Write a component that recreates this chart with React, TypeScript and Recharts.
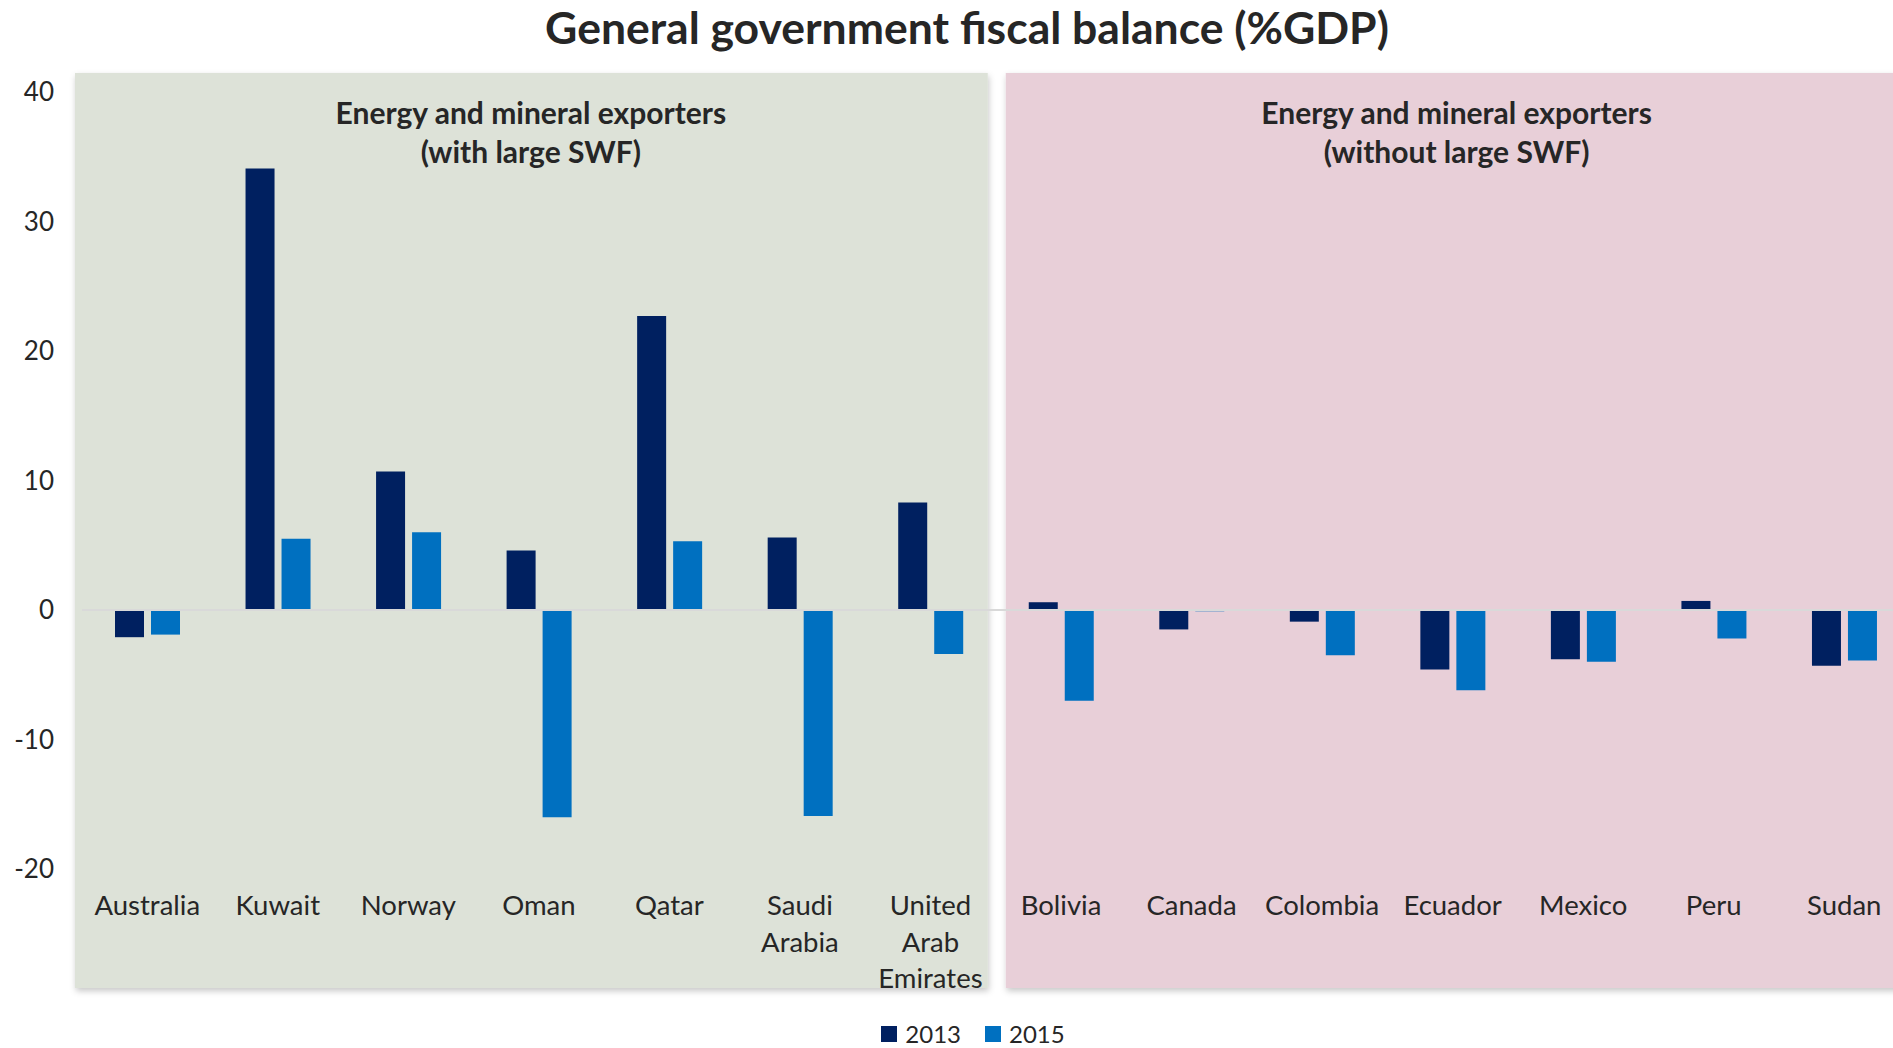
import React from "react";
import {
  BarChart,
  Bar,
  XAxis,
  YAxis,
  ReferenceArea,
  ReferenceLine,
  Legend,
} from "recharts";

// country labels, in the order they are drawn
const countries = [
  "Australia",
  "Kuwait",
  "Norway",
  "Oman",
  "Qatar",
  "Saudi Arabia",
  "United Arab Emirates",
  "Bolivia",
  "Canada",
  "Colombia",
  "Ecuador",
  "Mexico",
  "Peru",
  "Sudan",
];

// fiscal balance, % of GDP
const balance2013 = [-2.1, 34.1, 10.7, 4.6, 22.7, 5.6, 8.3, 0.6, -1.5, -0.9, -4.6, -3.8, 0.7, -4.3];
const balance2015 = [-1.9, 5.5, 6.0, -16.0, 5.3, -15.9, -3.4, -7.0, -0.1, -3.5, -6.2, -4.0, -2.2, -3.9];

const yTicks = [-20, -10, 0, 10, 20, 30, 40];

const withSwfTitle = ["Energy and mineral exporters", "(with large SWF)"];
const withoutSwfTitle = ["Energy and mineral exporters", "(without large SWF)"];

const data = countries.map((name, i) => ({
  name,
  y2013: balance2013[i],
  y2015: balance2015[i],
}));

const FONT = "Lato, 'Open Sans', sans-serif";
const TEXT = "#262626";

const CHART_W = 1940;
const CHART_H = 1060;

// background panel behind a group of countries, with its heading
const Panel = (props: any) => {
  const { x, y, width, height, fill, lines, padLeft, padRight, textShift, id } = props;
  const left = x + padLeft;
  const right = x + width + padRight;
  const top = y - 19;
  const bottom = y + height + 119;
  const cx = x + width / 2 + textShift;
  return (
    <g>
      <defs>
        <filter id={id} filterUnits="userSpaceOnUse" x={0} y={0} width={CHART_W + 200} height={CHART_H}>
          <feDropShadow dx="1" dy="3" stdDeviation="3" floodColor="#000" floodOpacity="0.22" />
        </filter>
      </defs>
      <rect x={left} y={top} width={right - left} height={bottom - top} fill={fill} filter={`url(#${id})`} />
      {lines.map((t: string, i: number) => (
        <text
          key={i}
          x={cx}
          y={top + 39 + i * 39}
          textAnchor="middle"
          dominantBaseline="central"
          fontFamily={FONT}
          fontWeight={700}
          fontSize={30}
          fill={TEXT}
        >
          {t}
        </text>
      ))}
    </g>
  );
};

// wraps multi word country names onto separate lines
const CountryTick = (props: any) => {
  const { x, y, payload } = props;
  const words = String(payload.value).split(" ");
  return (
    <text x={x} y={y} textAnchor="middle" fontFamily={FONT} fontSize={27.5} fill={TEXT}>
      {words.map((w, i) => (
        <tspan key={i} x={x} dy={i === 0 ? 46 : 36.5}>
          {w}
        </tspan>
      ))}
    </text>
  );
};

const renderLegend = (props: any) => {
  const items = props.payload || [];
  return (
    <div
      style={{
        display: "flex",
        justifyContent: "center",
        alignItems: "center",
        height: 26,
        lineHeight: "26px",
        fontFamily: FONT,
        fontSize: 24,
        color: TEXT,
      }}
    >
      {items.map((it: any, i: number) => (
        <span key={i} style={{ display: "flex", alignItems: "center", marginLeft: i === 0 ? 0 : 24 }}>
          <span style={{ width: 16, height: 16, background: it.color, marginRight: 8, display: "inline-block" }} />
          {it.value}
        </span>
      ))}
    </div>
  );
};

export default function App() {
  return (
    <div
      style={{
        position: "fixed",
        top: 0,
        left: 0,
        width: 1893,
        height: 1048,
        overflow: "hidden",
        background: "#fff",
      }}
    >
      <div
        style={{
          position: "absolute",
          top: 0,
          left: 0,
          width: 1934,
          textAlign: "center",
          fontFamily: FONT,
          fontWeight: 700,
          fontSize: 44.5,
          lineHeight: "54px",
          color: TEXT,
        }}
      >
        General government fiscal balance (%GDP)
      </div>
      <BarChart
        width={CHART_W}
        height={CHART_H}
        data={data}
        margin={{ top: 92, right: 30.5, left: 0, bottom: 13 }}
        barSize={29}
        barGap={7}
        style={{ position: "absolute", top: 0, left: 0 }}
      >
        <ReferenceArea
          x1="Australia"
          x2="United Arab Emirates"
          ifOverflow="visible"
          shape={(p: any) => (
            <Panel
              {...p}
              id="shadowA"
              fill="#DDE2D8"
              lines={withSwfTitle}
              padLeft={-7}
              padRight={-8}
              textShift={-8}
            />
          )}
        />
        <ReferenceArea
          x1="Bolivia"
          x2="Sudan"
          ifOverflow="visible"
          shape={(p: any) => (
            <Panel
              {...p}
              id="shadowB"
              fill="#E8CFD8"
              lines={withoutSwfTitle}
              padLeft={10}
              padRight={20}
              textShift={4}
            />
          )}
        />
        <ReferenceLine y={0} stroke="#D9D9D9" strokeWidth={2} ifOverflow="visible" />
        <XAxis
          dataKey="name"
          interval={0}
          axisLine={false}
          tickLine={false}
          tickSize={0}
          tickMargin={0}
          height={152}
          tick={<CountryTick />}
        />
        <YAxis
          domain={[-20, 40]}
          ticks={yTicks}
          axisLine={false}
          tickLine={false}
          tickSize={0}
          tickMargin={28}
          width={82}
          tick={{ fontFamily: FONT, fontSize: 26, fill: TEXT }}
        />
        <Legend
          verticalAlign="bottom"
          content={renderLegend}
          wrapperStyle={{ left: 0, width: 1946 }}
        />
        <Bar dataKey="y2013" name="2013" fill="#002060" isAnimationActive={false} />
        <Bar dataKey="y2015" name="2015" fill="#0070C0" isAnimationActive={false} />
      </BarChart>
    </div>
  );
}
